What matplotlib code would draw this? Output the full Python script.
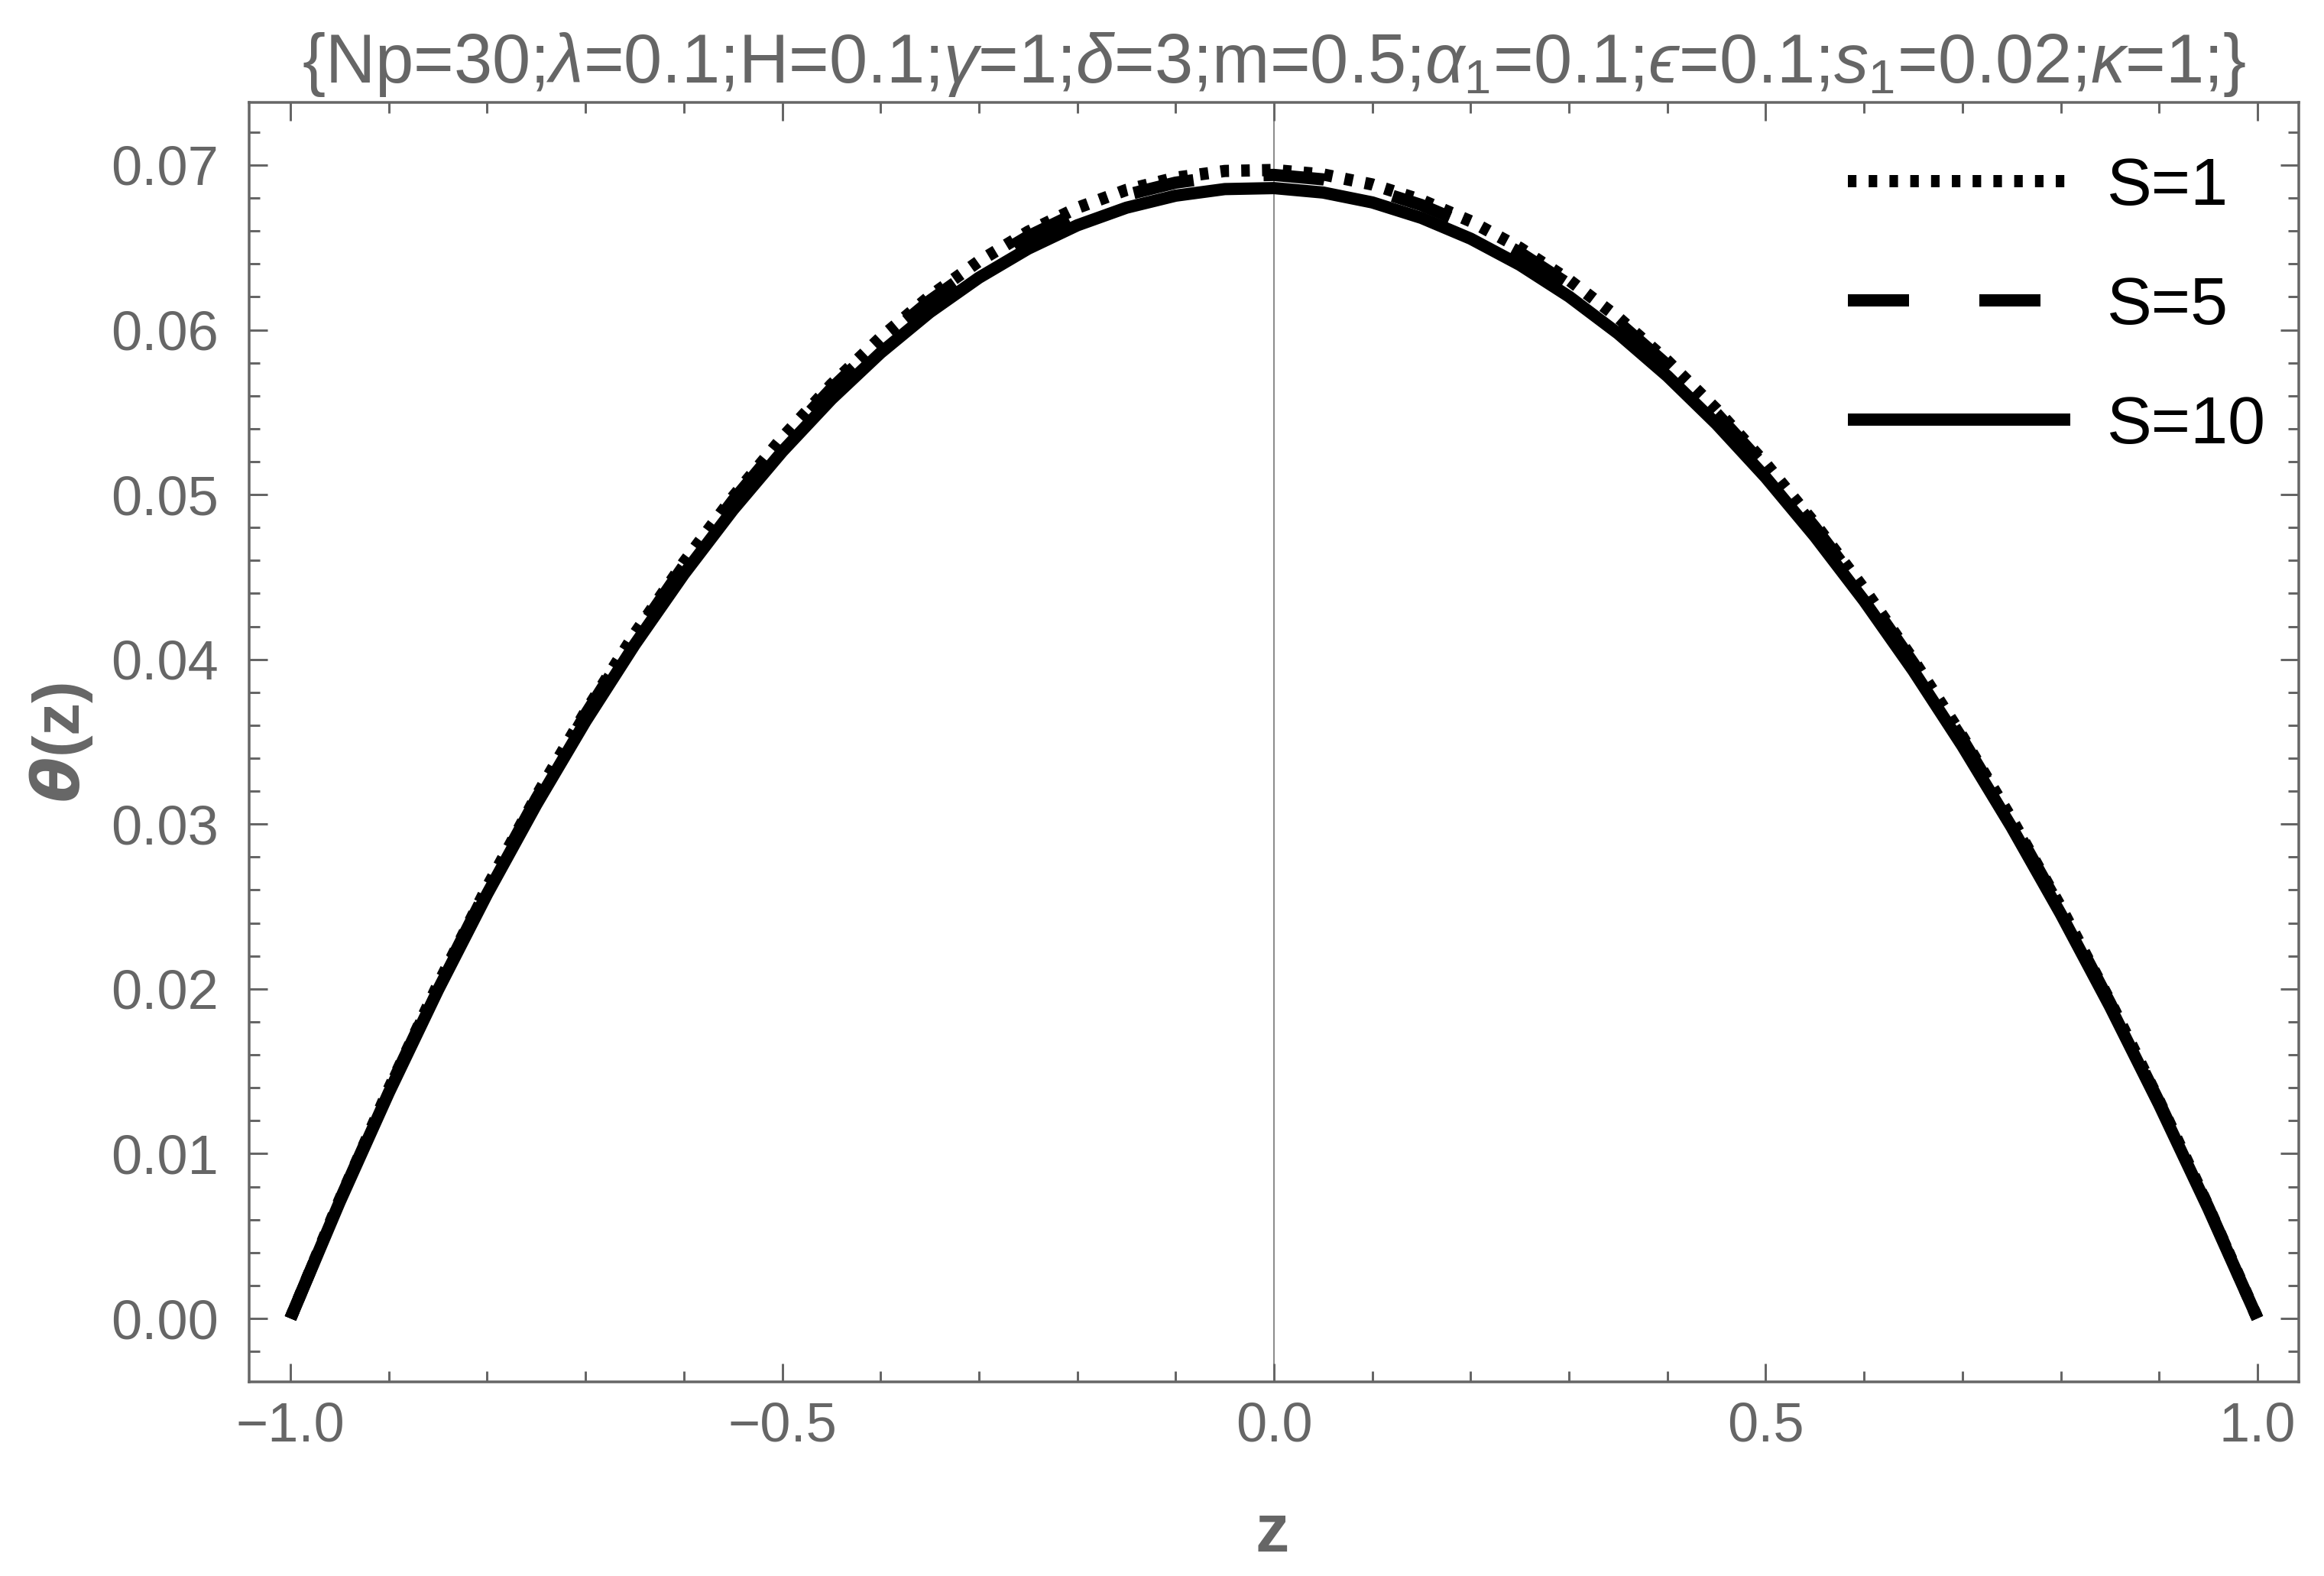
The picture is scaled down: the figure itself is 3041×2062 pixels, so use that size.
import numpy as np
import matplotlib
matplotlib.use('Agg')
import matplotlib.pyplot as plt
import matplotlib.ticker as mticker
from matplotlib import font_manager as fm

# データ
z = [-1.0, -0.95, -0.9, -0.85, -0.8, -0.75, -0.7, -0.65, -0.6, -0.55, -0.5,
     -0.45, -0.4, -0.35, -0.3, -0.25, -0.2, -0.15, -0.1, -0.05, 0.0,
     0.05, 0.1, 0.15, 0.2, 0.25, 0.3, 0.35, 0.4, 0.45, 0.5,
     0.55, 0.6, 0.65, 0.7, 0.75, 0.8, 0.85, 0.9, 0.95, 1.0]
theta_s1 = [0.0, 0.00717, 0.01391, 0.02024, 0.02616, 0.03167, 0.03680, 0.04153,
            0.04587, 0.04985, 0.05344, 0.05667, 0.05952, 0.06203, 0.06416,
            0.06595, 0.06740, 0.06849, 0.06923, 0.06964, 0.06970,
            0.06943, 0.06882, 0.06787, 0.06659, 0.06497, 0.06302, 0.06074,
            0.05811, 0.05516, 0.05187, 0.04823, 0.04426, 0.03996, 0.03530,
            0.03030, 0.02495, 0.01925, 0.01319, 0.00678, 0.0]
theta_s5 = [0.0, 0.00714, 0.01385, 0.02015, 0.02605, 0.03154, 0.03665, 0.04135,
            0.04568, 0.04964, 0.05321, 0.05643, 0.05927, 0.06176, 0.06389,
            0.06567, 0.06711, 0.06819, 0.06893, 0.06934, 0.06940,
            0.06913, 0.06852, 0.06757, 0.06630, 0.06469, 0.06275, 0.06047,
            0.05786, 0.05492, 0.05164, 0.04802, 0.04407, 0.03978, 0.03515,
            0.03017, 0.02484, 0.01916, 0.01313, 0.00675, 0.0]
theta_s10 = [0.0, 0.00706, 0.01370, 0.01993, 0.02576, 0.03119, 0.03624, 0.04089,
             0.04517, 0.04908, 0.05261, 0.05579, 0.05860, 0.06106, 0.06316,
             0.06492, 0.06634, 0.06741, 0.06814, 0.06854, 0.06860,
             0.06833, 0.06773, 0.06679, 0.06553, 0.06394, 0.06202, 0.05977,
             0.05719, 0.05428, 0.05104, 0.04746, 0.04356, 0.03932, 0.03474,
             0.02982, 0.02455, 0.01894, 0.01298, 0.00667, 0.0]
labels = ['S=1', 'S=5', 'S=10']

title = ('{Np=30;$\\lambda$=0.1;H=0.1;$\\gamma$=1;$\\delta$=3;m=0.5;'
         '$\\alpha_1$=0.1;$\u03f5$=0.1;$s_1$=0.02;$\\kappa$=1;}')

names = {f.name for f in fm.fontManager.ttflist}
tick_family = 'Liberation Sans Narrow' if 'Liberation Sans Narrow' in names else 'Liberation Sans'

plt.rcParams['font.family'] = ['Liberation Sans', 'DejaVu Sans']
plt.rcParams['mathtext.fontset'] = 'custom'
plt.rcParams['mathtext.rm'] = 'Liberation Sans'
plt.rcParams['mathtext.it'] = 'Liberation Sans:italic'
plt.rcParams['mathtext.bf'] = 'Liberation Sans:bold'
plt.rcParams['mathtext.fallback'] = 'stixsans'

gray = '#666666'
dpi = 200
px = 72.0 / dpi


def minus_fmt(fmt):
    return mticker.FuncFormatter(lambda v, pos: (fmt % v).replace('-', '\u2212'))


fig = plt.figure(figsize=(3041 / dpi, 2062 / dpi), dpi=dpi)
ax = fig.add_axes([326 / 3041, 1 - 1808 / 2062, (3008 - 326) / 3041, (1808 - 134) / 2062])

lw = 16 * px
ax.plot(z, theta_s1, color='black', lw=lw, dashes=(0.7, 1.0),
        dash_capstyle='butt', solid_joinstyle='round', label=labels[0])
ax.plot(z, theta_s5, color='black', lw=lw, dashes=(5.0, 5.75),
        dash_capstyle='butt', label=labels[1])
ax.plot(z, theta_s10, color='black', lw=lw, solid_capstyle='butt',
        solid_joinstyle='round', label=labels[2])

# 原点の縦軸
ax.axvline(0, color='#8c8c8c', lw=2 * px, zorder=0)

ax.set_xlim(-1.042, 1.042)
ax.set_ylim(-0.00385, 0.0738)

ax.xaxis.set_major_locator(mticker.MultipleLocator(0.5))
ax.xaxis.set_minor_locator(mticker.MultipleLocator(0.1))
ax.xaxis.set_major_formatter(minus_fmt('%.1f'))
ax.yaxis.set_major_locator(mticker.MultipleLocator(0.01))
ax.yaxis.set_minor_locator(mticker.MultipleLocator(0.002))
ax.yaxis.set_major_formatter(minus_fmt('%.2f'))

ax.tick_params(which='both', direction='in', top=True, right=True,
               color=gray, width=3 * px, labelcolor=gray)
ax.tick_params(which='major', length=24 * px)
ax.tick_params(which='minor', length=14 * px)
ax.tick_params(axis='x', pad=26 * px)
ax.tick_params(axis='y', pad=40 * px)
for lab in ax.get_xticklabels() + ax.get_yticklabels():
    lab.set_fontfamily(tick_family)
    lab.set_fontsize(26)

for sp in ax.spines.values():
    sp.set_color(gray)
    sp.set_linewidth(3.5 * px)

ax.set_title(title, color=gray, fontsize=32.5, pad=26 * px)

fig.text(1665 / 3041, 1 - 2030 / 2062, 'z', color=gray, fontsize=32,
         fontweight='bold', ha='center', va='baseline')
fig.text(80 / 3041, 1 - 971 / 2062, r'$\boldsymbol{\theta}$(z)', color=gray,
         fontsize=31, fontweight='bold', rotation=90, ha='center', va='center')

leg = ax.legend(loc='upper left', bbox_to_anchor=(2418 / 3041, 1 - 205 / 2062),
                bbox_transform=fig.transFigure, frameon=False, fontsize=31.7,
                handlelength=3.3, handletextpad=0.55, labelspacing=0.85,
                borderpad=0, borderaxespad=0)
for t in leg.get_texts():
    t.set_color('black')

fig.savefig('out.png', dpi=dpi)
